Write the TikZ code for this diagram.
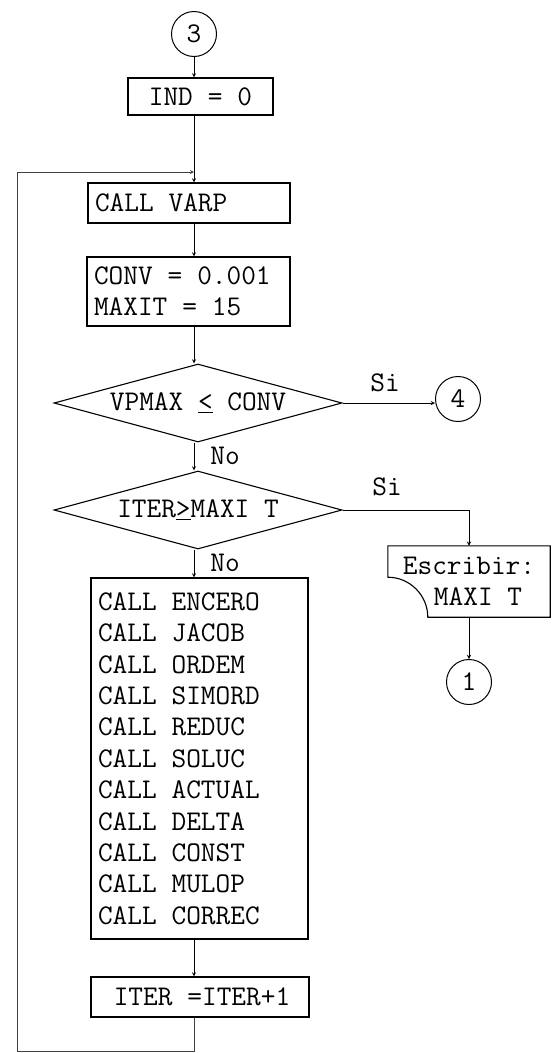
\documentclass[tikz,border=0pt]{standalone}
\usepackage{fontspec}
\usepackage{tikz}
\usetikzlibrary{shapes,arrows,positioning,calc}
\newcommand{\twfont}{\ttfamily\fontsize{28.5}{31.4}\selectfont}

\begin{document}
\begin{tikzpicture}[
    x=1pt, y=-1pt,
    box/.style={rectangle, draw, line width=1.1pt, inner sep=0pt, font=\twfont,
      execute at begin node={\spaceskip=0.525em\relax}},
    conn/.style={circle, draw, line width=1pt, minimum size=45pt, inner sep=0pt, font=\twfont},
    cond/.style={diamond, draw, line width=1.1pt, aspect=3.7, inner sep=0pt, minimum width=288pt, minimum height=78pt, font=\twfont},
    arr/.style={-stealth, line width=0.9pt},
    back/.style={-stealth, line width=0.8pt, black!75},
    lbl/.style={font=\twfont, inner sep=0pt}
]
\useasboundingbox (0,0) rectangle (556,1053);

% start connector and init
\node (c3) at (194,34) [conn] {3};
\node (ind) at (200.5,96.5) [box, minimum width=145pt, minimum height=37pt] {IND = 0};
\coordinate (join) at (194,172);
\coordinate (tl) at (17,172);
\coordinate (bl) at (17,1051);

% VARP and constants
\node (varp) at (189,203) [box, minimum width=202pt, minimum height=40pt, text width=188pt, align=left] {CALL VARP};
\node (conv) at (188.5,291.5) [box, minimum width=203pt, minimum height=69pt, text width=189pt, align=left] {CONV = 0.001\\MAXIT = 15};

% tests
\node (d1) at (198,403) [cond] {VPMAX \underline{<} CONV};
\node (c4) at (458,399) [conn] {4};
\node (d2) at (198,510) [cond] {ITER\underline{>}MAXI T\hspace{20pt}};

% write and stop
\node (esc) at (469,581.5) [minimum width=162pt, minimum height=71pt, inner sep=0pt, align=center, font=\twfont] {Escribir:\\\hspace*{18pt}MAXI T};
\draw[line width=1.1pt] (esc.north west) -- (esc.north east) -- (esc.south east) -- ($(esc.south west)+(40,0)$)
    .. controls +(0,-22) and +(22,0) .. ($(esc.south west)+(0,-40)$) -- cycle;
\node (c1) at (469,682) [conn] {1};

% iteration body
\node (calls) at (199.5,758.5) [box, minimum width=217pt, minimum height=361pt, text width=203pt, align=left] {
  CALL ENCERO\\
  CALL JACOB\\
  CALL ORDEM\\
  CALL SIMORD\\
  CALL REDUC\\
  CALL SOLUC\\
  CALL ACTUAL\\
  CALL DELTA\\
  CALL CONST\\
  CALL MULOP\\
  CALL CORREC
};
\node (iter) at (200,997) [box, minimum width=218pt, minimum height=40pt] {\hspace{4pt}ITER =ITER+1};

% labels
\node (si1) at (385,383) [lbl] {Si};
\node (no1) at (225,456) [lbl] {No};
\node (si2) at (387,487) [lbl] {Si};
\node (no2) at (225,563) [lbl] {No};

% connectors
\draw[arr] (c3) -- (c3 |- ind.north);
\draw[line width=0.9pt] (join |- ind.south) -- (join);
\draw[arr] (join) -- (join |- varp.north);
\draw[arr] (join |- varp.south) -- (join |- conv.north);
\draw[arr] (join |- conv.south) -- (join |- d1.north);
\draw[arr] (d1.east) -- (d1.east -| c4.west);
\draw[arr] (join |- d1.south) -- (join |- d2.north);
\draw[arr] (d2.east) -| (esc.north);
\draw[arr] (esc.south) -- (c1.north);
\draw[arr] (join |- d2.south) -- (join |- calls.north);
\draw[arr] (join |- calls.south) -- (join |- iter.north);
\draw[back] (join |- iter.south) |- (bl) -- (tl) -- (join);

\end{tikzpicture}
\end{document}
